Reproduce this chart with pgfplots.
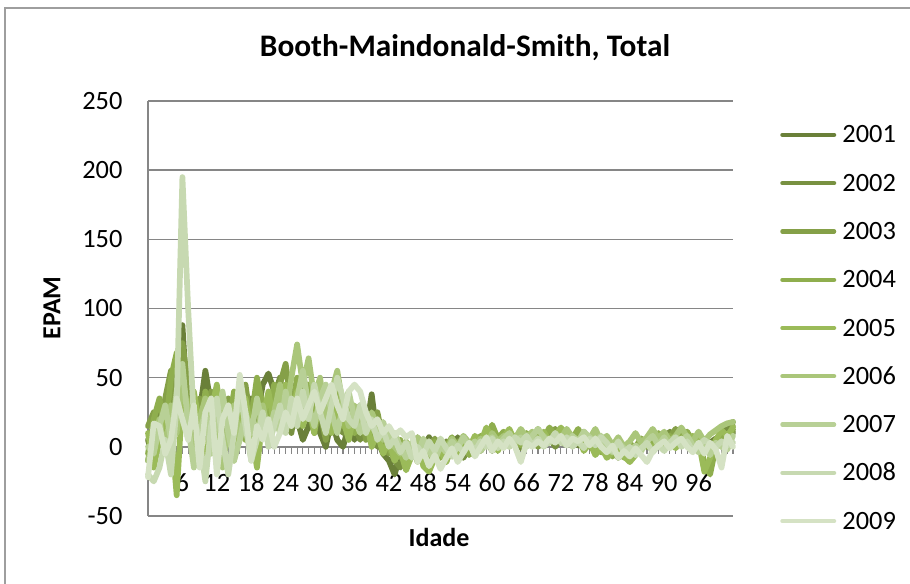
\documentclass[border=0pt]{standalone}
\usepackage{pgfplots}
\pgfplotsset{compat=1.18}
\usepackage{pgfplotstable}
\usepackage{fontspec}
\setmainfont{Carlito}

\definecolor{gridgray}{RGB}{134,134,134}
\definecolor{c1}{RGB}{106,128,57}
\definecolor{c2}{RGB}{120,145,65}
\definecolor{c3}{RGB}{133,160,72}
\definecolor{c4}{RGB}{143,174,78}
\definecolor{c5}{RGB}{155,187,89}
\definecolor{c6}{RGB}{170,198,122}
\definecolor{c7}{RGB}{184,208,150}
\definecolor{c8}{RGB}{199,217,177}
\definecolor{c9}{RGB}{213,226,196}

\pgfplotstableread{
age a b c d e f g h i
0 5 -10 15 -5 10 -10 0 -20 -22
1 -10 10 25 20 -15 5 -5 -25 17
2 15 25 5 35 5 20 15 -15 15
3 20 15 35 10 25 -5 30 5 -5
4 10 40 55 50 15 30 5 -20 5
5 45 65 20 68 -35 10 40 30 35
6 88 30 75 40 35 50 60 195 20
7 20 55 45 10 20 25 15 100 5
8 5 15 0 30 40 -10 -15 20 30
9 25 -10 35 5 15 20 10 5 -15
10 55 20 15 40 -20 35 25 -25 25
11 30 35 40 20 25 5 -5 15 35
12 15 10 -5 35 45 25 20 35 -20
13 25 -5 20 0 15 -15 40 5 20
14 5 25 35 15 30 15 10 -20 30
15 30 15 10 40 -10 30 -10 10 10
16 20 35 25 25 20 5 5 40 52
17 10 20 45 5 35 20 25 15 25
18 35 5 15 20 10 -5 10 -10 -10
19 20 40 30 50 -15 10 35 5 15
20 45 25 10 30 20 30 15 25 5
21 53 15 35 20 40 10 5 0 20
22 40 35 20 45 15 25 25 15 0
23 15 50 45 25 30 45 10 30 10
24 30 20 60 35 45 20 40 10 25
25 45 10 30 15 25 50 20 35 15
26 20 35 15 50 40 74 35 15 35
27 5 55 40 30 15 45 55 40 20
28 15 25 20 45 30 64 30 20 30
29 30 10 45 20 10 35 15 45 40
30 10 30 25 35 40 50 35 25 25
31 0 15 5 15 25 20 45 10 35
32 20 40 30 25 10 40 25 30 45
33 5 20 15 40 30 55 10 50 30
34 0 10 35 15 20 30 30 35 20
35 15 25 10 30 5 15 40 20 40
36 5 15 20 10 25 30 20 15 45
37 20 5 30 25 10 20 10 30 40
38 10 20 5 15 20 10 25 10 25
39 38 10 15 5 0 25 15 20 15
40 5 0 25 20 10 15 8 5 20
41 -5 15 5 10 -5 5 18 12 10
42 -10 5 -5 0 5 12 5 0 15
43 -20 -10 5 -10 -10 0 10 6 8
44 -5 -15 -8 5 -3 -5 0 -4 12
45 -14 0 4 -7 -17 4 -8 3 7
46 -7 -7 -6 3 -6 -4 3 -8 10
47 0 7 3 -11 4 7 -6 0 -11
48 -11 -3 -8 0 -14 -3 6 -6 -3
49 7 -11 0 -6 -18 4 -3 4 -14
50 -7 0 6 4 -8 -6 -10 -3 -6
51 0 -7 -4 -8 -3 3 1 6 -16
52 3 4 -11 0 -11 -3 -4 -1 -8
53 -7 -3 0 7 3 6 4 -7 -1
54 7 3 4 -3 -6 0 -1 1 -11
55 -4 -8 -3 4 6 8 7 -4 -4
56 0 0 3 -6 -1 3 0 3 3
57 6 7 -6 1 8 -1 4 -3 -7
58 -3 0 4 8 3 6 -3 4 0
59 4 6 10 0 14 1 3 0 7
60 8 -3 3 16 6 10 7 6 -3
61 0 4 7 6 -3 4 1 -1 4
62 6 8 0 11 7 8 6 4 -1
63 3 1 8 3 13 0 10 0 6
64 7 6 4 8 4 6 3 7 0
65 0 -1 11 1 10 13 7 3 -11
66 4 7 3 10 1 7 0 8 3
67 8 3 6 4 7 11 8 1 0
68 3 10 0 13 3 4 13 6 4
69 7 4 4 6 11 8 7 0 1
70 11 7 8 14 4 3 3 4 6
71 4 0 13 8 8 10 8 10 3
72 8 6 6 3 14 6 4 3 8
73 3 11 10 11 7 13 1 7 1
74 7 4 3 6 1 7 8 0 6
75 1 8 7 13 6 3 4 4 4
76 6 1 11 4 -3 10 11 -1 7
77 0 6 4 8 3 6 7 6 1
78 4 -1 0 0 -6 13 3 1 6
79 -3 4 6 -4 0 4 8 7 0
80 3 -6 -3 3 -8 8 0 3 -4
81 -4 0 3 -7 -4 1 -4 -3 1
82 0 -8 -6 -1 1 7 3 4 -8
83 -7 -3 1 -8 -7 0 -1 -4 -3
84 0 3 -4 3 -11 4 -6 0 -7
85 -3 -4 0 -3 -6 10 1 -6 -1
86 4 1 6 6 0 3 -3 -1 -6
87 0 6 1 0 4 7 4 3 -11
88 7 0 8 4 -3 13 8 -4 -3
89 3 8 4 10 6 6 1 1 1
90 8 4 0 3 0 11 7 -3 4
91 4 11 7 8 4 4 0 3 -1
92 10 6 13 1 -1 8 6 7 3
93 3 10 6 7 6 14 3 0 6
94 7 3 10 11 1 7 8 4 0
95 0 7 3 4 8 4 1 -3 -4
96 6 -1 8 8 4 11 -4 1 3
97 -2 3 0 -12 -18 4 2 5 -5
98 3 0 -5 -20 -8 9 -6 2 3
99 6 5 3 0 5 12 3 0 -2
100 2 10 8 10 12 15 0 4 -15
101 8 14 5 4 8 17 -2 1 8
102 10 18 12 15 14 18 8 3 0
}\data

\begin{document}
\begin{tikzpicture}
\useasboundingbox (0pt,0pt) rectangle (682.5pt,437.25pt);
\draw[gridgray!80, line width=1pt] (3.75pt,-10pt) -- (3.75pt,431.25pt) -- (700pt,431.25pt);
\begin{axis}[
  at={(111pt,50.25pt)}, anchor=south west,
  scale only axis, width=438.75pt, height=311.25pt,
  xmin=0, xmax=102, ymin=-50, ymax=250,
  enlargelimits=false, clip=false,
  axis x line=middle, axis y line=left,
  x axis line style={-, draw=gridgray, line width=1.1pt},
  y axis line style={-, draw=gridgray, line width=1.1pt},
  xtick={0,6,...,96}, minor xtick={0,1,...,102},
  ytick={-50,0,...,250},
  tick align=outside,
  major tick length=5pt, minor tick length=5pt,
  xtick style={draw=gridgray, line width=0.8pt},
  minor x tick style={draw=gridgray, line width=0.8pt},
  ytick style={draw=none},
  ymajorgrids, major grid style={draw=gridgray, line width=1.1pt},
  /pgf/number format/assume math mode=true,
  tick label style={font=\fontsize{19.8}{23}\selectfont},
  yticklabel style={anchor=east, inner sep=0pt, xshift=-14pt},
  xticklabel style={anchor=center, inner sep=0pt, yshift=-22pt},
  legend style={at={(1.0803,0.453)}, anchor=west, draw=none, fill=none,
    inner sep=0pt, row sep=24.2pt,
    font=\fontsize{19.8}{23}\selectfont,
    nodes={inner sep=0pt, text height=12pt, text depth=0pt},
    /tikz/every odd column/.append style={column sep=4.6pt}},
  legend cell align=left,
  legend image code/.code={\draw[#1, line width=3.2pt, line cap=round] (0pt,0pt) -- (38.8pt,0pt);},
  every axis plot/.append style={line width=4.3pt, line join=round, line cap=round, mark=none},
]
\addplot[c1] table[x=age,y=a]{\data};
\addlegendentry{2001}
\addplot[c2] table[x=age,y=b]{\data};
\addlegendentry{2002}
\addplot[c3] table[x=age,y=c]{\data};
\addlegendentry{2003}
\addplot[c4] table[x=age,y=d]{\data};
\addlegendentry{2004}
\addplot[c5] table[x=age,y=e]{\data};
\addlegendentry{2005}
\addplot[c6] table[x=age,y=f]{\data};
\addlegendentry{2006}
\addplot[c7] table[x=age,y=g]{\data};
\addlegendentry{2007}
\addplot[c8] table[x=age,y=h]{\data};
\addlegendentry{2008}
\addplot[c9] table[x=age,y=i]{\data};
\addlegendentry{2009}
\end{axis}
\node[anchor=base, font=\bfseries\fontsize{23.5}{28}\selectfont] at (348.75pt,394.5pt) {Booth-Maindonald-Smith, Total};
\node[rotate=90, font=\bfseries\fontsize{19.5}{23}\selectfont] at (39pt,206.25pt) {EPAM};
\node[anchor=base, font=\bfseries\fontsize{19.5}{23}\selectfont] at (329.25pt,27.75pt) {Idade};
\end{tikzpicture}
\end{document}
